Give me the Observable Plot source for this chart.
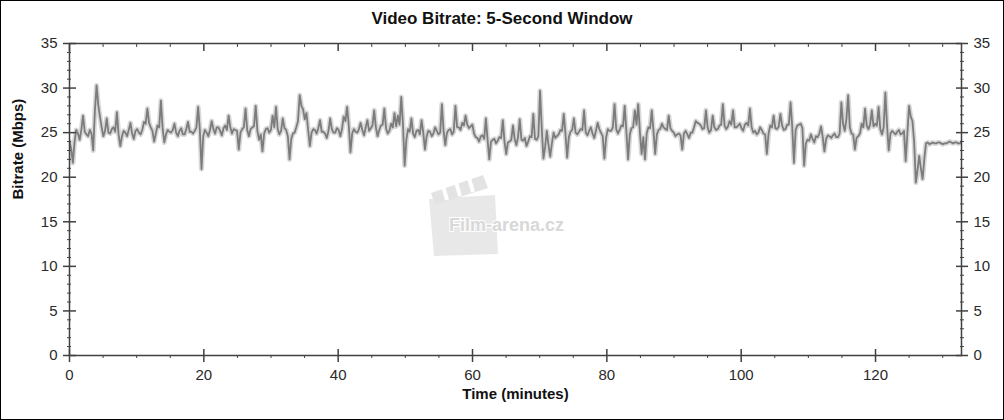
<!DOCTYPE html>
<html>
<head>
<meta charset="utf-8">
<script src="https://cdn.jsdelivr.net/npm/d3@7"></script>
<script src="https://cdn.jsdelivr.net/npm/@observablehq/plot@0.6"></script>
<style>
  body { margin: 0; background: #fff; }
  #wrap { position: relative; width: 1004px; height: 420px; border: 1px solid #000; box-sizing: border-box; background: #fff; overflow: hidden; font-family: "Liberation Sans", Arial, sans-serif; }
  #title { position: absolute; top: 8px; left: 0; width: 100%; text-align: center; font-weight: bold; font-size: 17px; color: #111; }
  #chart { position: absolute; left: 0; top: 30px; }
  #wm { position: absolute; left: 424px; top: 172px; }
</style>
</head>
<body>
<div id="wrap">
  <div id="title">Video Bitrate: 5-Second Window</div>
  <svg id="wm" width="170" height="90" viewBox="0 0 170 90">
    <polygon points="4,26 70,22 73,81 9,83" fill="#e8e8e8"/>
    <polygon points="6,20 58,2 63,15 10,32" fill="#e3e3e3"/>
    <line x1="18" y1="13" x2="22" y2="27" stroke="#fff" stroke-width="4"/>
    <line x1="31" y1="9" x2="35" y2="23" stroke="#fff" stroke-width="4"/>
    <line x1="44" y1="5" x2="48" y2="19" stroke="#fff" stroke-width="4"/>
    <text x="24" y="58" font-family="Liberation Sans, Arial, sans-serif" font-weight="bold" font-size="18" fill="#d8d8d8" stroke="#fff" stroke-width="2" paint-order="stroke">Film-arena.cz</text>
  </svg>
  <div id="chart"></div>
</div>
<script>
// Sampling interval of the series (minutes); "between" samples sit half a step after each main sample
const STEP = 0.504;

// Video bitrate (Mbps) at t = i*STEP
const bitrate = [
  24.0, 21.6, 25.3, 24.2, 26.9, 24.8, 25.3, 23.0, 30.3, 26.8,
  24.6, 26.6, 24.9, 25.6, 27.3, 23.5, 25.2, 24.6, 26.1, 24.3,
  25.4, 24.8, 26.2, 27.7, 25.6, 24.0, 25.8, 28.6, 23.9, 25.3,
  25.0, 26.0, 24.6, 25.5, 24.8, 26.2, 25.1, 25.2, 27.9, 20.9,
  25.3, 24.6, 26.3, 24.9, 25.6, 24.7, 25.8, 26.9, 24.9, 25.3,
  23.1, 25.4, 27.7, 24.6, 25.6, 28.0, 24.2, 22.9, 25.4, 25.0,
  26.9, 27.9, 24.8, 26.6, 25.3, 22.0, 24.9, 25.6, 29.2, 27.6,
  27.2, 23.5, 25.4, 24.9, 26.4, 25.1, 24.4, 26.6, 25.0, 25.5,
  24.6, 26.8, 27.9, 22.8, 25.4, 25.0, 26.1, 24.7, 26.4, 25.5,
  27.5, 24.6, 25.8, 27.7, 24.9, 26.0, 27.2, 26.9, 29.0, 21.3,
  25.4, 26.6, 24.5, 25.3, 26.4, 23.1, 25.2, 24.6, 25.6, 24.8,
  28.2, 23.6, 25.3, 24.8, 28.0, 25.6, 26.1, 26.9, 25.5, 25.9,
  24.5, 24.0, 24.7, 26.6, 22.0, 24.2, 23.8, 24.5, 26.4, 22.6,
  24.0, 25.8, 23.6, 26.5, 24.1, 23.5, 24.6, 27.1, 24.2, 29.7,
  22.1, 25.2, 22.3, 25.0, 24.6, 25.3, 27.1, 22.2, 25.1, 26.6,
  24.8, 25.4, 27.5, 24.7, 25.6, 24.4, 26.1, 25.0, 22.1, 25.4,
  25.2, 28.2, 24.9, 25.8, 28.0, 22.0, 25.5, 27.5, 28.2, 22.6,
  22.0, 25.6, 27.5, 22.6, 25.3, 26.0, 25.4, 26.9, 25.2, 24.6,
  24.9, 23.1, 25.2, 24.4, 25.0, 26.3, 26.0, 25.4, 27.5, 25.0,
  26.9, 25.3, 25.8, 28.2, 25.4, 26.3, 27.5, 25.6, 26.0, 25.2,
  26.1, 27.7, 25.0, 24.8, 25.6, 24.9, 22.6, 25.8, 26.9, 25.4,
  27.1, 25.3, 25.9, 28.4, 21.6, 25.8, 26.0, 21.3, 24.2, 24.8,
  23.9, 24.5, 25.7, 22.9, 24.7, 24.4, 24.9, 24.5, 28.4, 25.2,
  29.2, 24.9, 23.1, 24.6, 26.0, 27.7, 25.4, 27.5, 26.0, 27.9,
  24.8, 29.5, 23.0, 25.2, 24.8, 25.3, 24.9, 21.8, 28.0, 26.3,
  19.4, 22.4, 19.8, 23.8, 23.7, 23.9, 23.8, 23.9, 23.7, 23.8,
  24.0, 23.8, 23.9, 23.8, 24.0
];

// Video bitrate (Mbps) at t = (i+0.5)*STEP, the baseline between spikes
const bitrateBetween = [
  23.2, 24.0, 24.9, 25.3, 25.1, 24.6, 24.9, 27.4, 28.1, 25.6,
  25.2, 25.0, 25.4, 25.1, 24.8, 24.6, 25.0, 25.3, 24.9, 25.2,
  25.0, 25.3, 26.0, 26.1, 25.2, 24.9, 25.6, 25.5, 24.8, 25.1,
  25.3, 25.0, 25.2, 24.8, 25.4, 25.1, 24.9, 25.6, 25.3, 24.6,
  25.0, 25.3, 25.4, 25.6, 25.2, 25.5, 25.3, 25.6, 25.4, 25.2,
  25.0, 25.6, 25.3, 25.4, 25.7, 25.2, 24.8, 24.9, 25.5, 25.3,
  25.6, 25.4, 25.2, 25.5, 24.6, 24.3, 25.0, 26.3, 28.0, 26.5,
  25.3, 25.0, 25.3, 25.5, 25.1, 24.9, 25.2, 25.4, 25.0, 25.3,
  25.4, 26.3, 25.8, 24.9, 25.1, 25.4, 25.3, 25.6, 25.2, 25.8,
  25.6, 25.3, 25.9, 25.5, 25.2, 25.6, 25.7, 25.9, 26.0, 24.2,
  25.1, 24.9, 25.2, 24.8, 25.0, 24.6, 25.1, 24.9, 25.2, 25.0,
  25.2, 25.0, 25.4, 25.1, 25.6, 25.3, 25.8, 25.9, 25.7, 24.9,
  24.4, 24.6, 24.3, 24.2, 24.0, 24.3, 24.1, 24.4, 24.0, 23.9,
  24.2, 24.3, 24.5, 24.2, 24.4, 24.0, 24.5, 24.3, 24.6, 25.5,
  23.4, 23.6, 23.8, 24.4, 24.8, 25.2, 24.9, 24.5, 25.3, 25.0,
  25.1, 25.3, 25.0, 25.2, 24.9, 25.2, 25.4, 24.6, 24.4, 25.2,
  25.6, 25.4, 25.3, 25.7, 25.1, 24.8, 25.6, 25.9, 25.0, 24.5,
  24.9, 25.5, 25.2, 24.8, 25.4, 25.6, 25.3, 25.5, 25.0, 24.8,
  24.7, 24.9, 24.8, 25.0, 25.6, 26.1, 25.8, 25.5, 25.6, 25.3,
  25.6, 25.4, 25.9, 25.8, 25.7, 25.9, 25.6, 25.8, 25.5, 25.9,
  25.8, 25.6, 25.2, 25.0, 25.3, 24.8, 24.9, 25.6, 25.5, 25.7,
  25.8, 25.4, 25.9, 25.6, 25.3, 25.9, 25.5, 23.8, 24.1, 24.3,
  24.6, 24.9, 24.5, 24.3, 24.6, 24.7, 24.5, 24.9, 26.0, 26.5,
  25.6, 24.8, 24.4, 24.9, 25.6, 25.8, 25.9, 25.7, 25.8, 25.4,
  25.6, 25.8, 24.9, 25.0, 25.1, 24.8, 25.2, 24.9, 26.8, 24.0,
  20.8, 21.0, 22.0, 23.9, 23.8, 23.8, 23.9, 23.8, 23.8, 23.9,
  23.9, 23.9, 23.8, 23.9, 23.9
];

const xMajor = [0, 20, 40, 60, 80, 100, 120];
const xMinor = [5, 10, 15, 25, 30, 35, 45, 50, 55, 65, 70, 75, 85, 90, 95, 105, 110, 115, 125, 130];
const yMajor = [0, 5, 10, 15, 20, 25, 30, 35];
const yMinor = [1, 2, 3, 4, 6, 7, 8, 9, 11, 12, 13, 14, 16, 17, 18, 19, 21, 22, 23, 24, 26, 27, 28, 29, 31, 32, 33, 34];

const xLabel = "Time (minutes)";
const yLabel = "Bitrate (Mbps)";

const data = [];
bitrate.forEach((v, i) => {
  data.push({ t: i * STEP, v });
  data.push({ t: (i + 0.5) * STEP, v: bitrateBetween[i] });
});

const AX = "#404040";
const blank = () => "";

const chart = Plot.plot({
  width: 1002,
  height: 388,
  marginLeft: 68,
  marginRight: 42,
  marginTop: 12,
  marginBottom: 64,
  x: { domain: [0, 132.8], label: null },
  y: { domain: [0, 35], label: null },
  style: { fontFamily: "'Liberation Sans', Arial, sans-serif", fontSize: "15px", color: "#2a2a2a", background: "transparent" },
  marks: [
    Plot.lineY(data, { x: "t", y: "v", stroke: "#d8d8d8", strokeWidth: 5, clip: true }),
    Plot.lineY(data, { x: "t", y: "v", stroke: "#7c7c7c", strokeWidth: 1.8, clip: true }),
    Plot.frame({ stroke: AX, strokeWidth: 1.5 }),
    // left axis
    Plot.axisY({ anchor: "left", ticks: yMajor, tickSize: 13, dx: 7, tickFormat: blank, stroke: AX, strokeWidth: 1.5, label: null }),
    Plot.axisY({ anchor: "left", ticks: yMinor, tickSize: 4, dx: 2, tickFormat: blank, stroke: AX, label: null }),
    Plot.axisY({ anchor: "left", ticks: yMajor, tickSize: 0, tickPadding: 12, label: null }),
    // right axis
    Plot.axisY({ anchor: "right", ticks: yMajor, tickSize: 12, dx: -6, tickFormat: blank, stroke: AX, strokeWidth: 1.5, label: null }),
    Plot.axisY({ anchor: "right", ticks: yMinor, tickSize: 4, dx: -2, tickFormat: blank, stroke: AX, label: null }),
    Plot.axisY({ anchor: "right", ticks: yMajor, tickSize: 0, tickPadding: 12, label: null }),
    // bottom axis
    Plot.axisX({ anchor: "bottom", ticks: xMajor, tickSize: 13, dy: -6, tickFormat: blank, stroke: AX, strokeWidth: 1.5, label: null }),
    Plot.axisX({ anchor: "bottom", ticks: xMinor, tickSize: 3, tickFormat: blank, stroke: AX, label: null }),
    Plot.axisX({ anchor: "bottom", ticks: xMajor, tickSize: 0, tickPadding: 14, label: null }),
    // top axis (inward ticks only)
    Plot.axisX({ anchor: "top", ticks: xMajor, tickSize: 7, dy: 7, tickFormat: blank, stroke: AX, strokeWidth: 1.5, label: null }),
    Plot.axisX({ anchor: "top", ticks: xMinor, tickSize: 3, dy: 3, tickFormat: blank, stroke: AX, label: null }),
    // axis titles
    Plot.text([xLabel], { frameAnchor: "bottom", dy: 43, fontWeight: "bold", fontSize: 15, fill: "#111" }),
    Plot.text([yLabel], { frameAnchor: "left", dx: -51, rotate: -90, fontWeight: "bold", fontSize: 15, fill: "#111" })
  ]
});

document.getElementById("chart").appendChild(chart);
</script>
</body>
</html>
